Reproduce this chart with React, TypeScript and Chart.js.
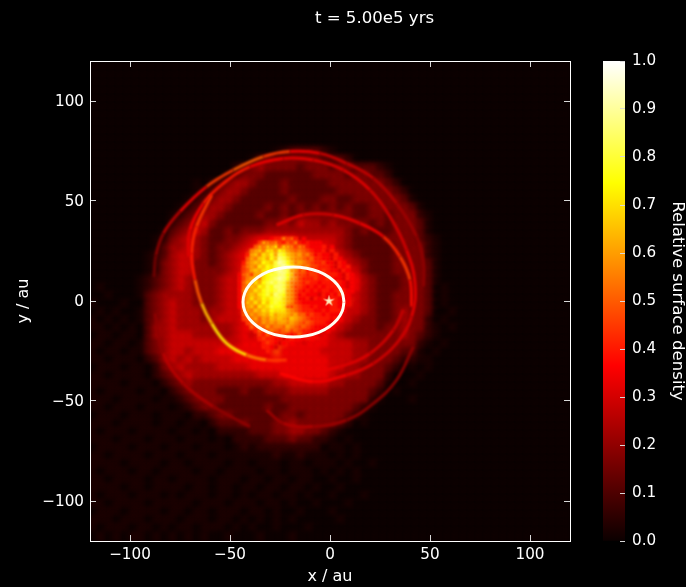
import React, { useEffect, useRef } from "react";
import { Chart, registerables } from "chart.js";

Chart.register(...registerables);

const titleText = "t = 5.00e5 yrs";
const xAxisLabel = "x / au";
const yAxisLabel = "y / au";
const colorbarLabel = "Relative surface density";
const axisTicks = [-100, -50, 0, 50, 100];
const colorbarTicks = [0, 0.1, 0.2, 0.3, 0.4, 0.5, 0.6, 0.7, 0.8, 0.9, 1];
const colorbarStops: [number, string][] = [
  [0, "#0b0000"],
  [0.365, "#ff0000"],
  [0.746, "#ffff00"],
  [1, "#ffffff"],
];

// Surface density on a 60 x 60 grid, 4 au per cell, top row first.
// Base-36 level; "z" is the faint glow just above the floor.
const densityRows = [
  "0000000000 0000000000 0000000000 0000000000 0000000000 0000000000",
  "0000000000 0000000000 0000000000 0000000000 0000000000 0000000000",
  "0000000000 0000000000 0000000000 0000000000 0000000000 0000000000",
  "0000000000 0000000000 0000000000 0000000000 0000000000 0000000000",
  "0000000000 0000000000 0000000000 0000000000 0000000000 0000000000",
  "0000000000 0000000000 0000000000 0000000000 0000000000 0000000000",
  "0000000000 0000000000 0000000000 0000000000 0000000000 0000000000",
  "0000000000 0000000000 0000000000 0000000000 0000000000 0000000000",
  "0000000000 0000000000 0000000000 0000000000 0000000000 0000000000",
  "0000000000 0000000000 0000000000 0000000000 0000000000 0000000000",
  "0000000000 0000000000 0000000000 0000000000 0000000000 0000000000",
  "0000000000 0000000000 000z122221 z000000000 0000000000 0000000000",
  "0000000000 0000000000 z233333332 2210000000 0000000000 0000000000",
  "0000000000 0000000012 3433332333 2332221z00 0000000000 0000000000",
  "0000000000 0000000123 3322222233 3323322100 0000000000 0000000000",
  "0000000000 000z012344 3222322222 3333333210 0000000000 0000000000",
  "0000000000 000z123443 2222322222 2333333321 0000000000 0000000000",
  "0000000000 00z1234432 2222232223 3223333332 z000000000 0000000000",
  "0000000000 0z12344322 2232323232 3232233333 2z00000000 0000000000",
  "0000000000 z123443222 2322323333 3332233233 31z0000000 0000000000",
  "0000000000 1234532222 2233435443 4333323233 32z0000000 0000000000",
  "000000000z 2345422323 3344444444 4432322233 32z0000000 0000000000",
  "00000000z1 3454322334 5666665555 5432222333 321z000000 0000000000",
  "00000000z2 4454323345 6777776666 5432222233 331z000000 0000000000",
  "0000000z12 4554323456 abcfgdb987 7543222233 331z000000 0000000000",
  "0000000z13 4553323456 accfhfca98 8654322233 332z000000 0000000000",
  "0000000z13 4553333457 bcdfhgb987 8765322233 332z000000 0000000000",
  "000000z123 4543334559 bcefhha876 7766432223 332z000000 0000000000",
  "0z0000z123 4543334559 bcefhf9766 6666432223 3320z00000 0000000000",
  "00z000z234 4443334559 ccegge8766 6665432233 3320z00000 0000000000",
  "z000z00234 5443334558 bcdfgc7766 6675432233 3320z00000 0000000000",
  "0z0z00z234 5444344557 abceec8876 7655432234 33200z0000 0000000000",
  "z0z0z0z234 5444345556 9abcdcb987 7654332234 3310z00000 0000000000",
  "zz0z0z0244 5444444456 789abba987 6543332334 331z0z0000 0000000000",
  "0zz0zz0244 5554444456 5789a98876 5433333334 321z000000 0000000000",
  "zz0zz0z234 5555555556 6678766666 5554433333 31z0z00000 0000000000",
  "z0zz0zz234 5545556666 6668666665 5554433332 2z0z000000 0000000000",
  "zz0zzz0124 5454555566 6667666666 5554433321 1zz0000000 0000000000",
  "0zzz0zz013 4544445555 6666666666 5544333210 z0z0000000 0000000000",
  "zz0zzzz012 3454444444 4555666666 5444333100 0z00000000 0000000000",
  "zzzz0zzz01 2343333333 3334455555 4433332z00 z000000000 0000000000",
  "z0zzzz0zz0 1233332223 2233344444 33333210z0 0000000000 0000000000",
  "zzz0zzzz0z z123333222 2222333333 333331z000 z000000000 0000000000",
  "zz0zzz0zzz 0z12332222 2232233333 33321z0000 0000000000 0000000000",
  "0zzz0zzz0z zz01123322 2222332333 3321z00000 0000000000 0000000000",
  "zzz0zzzz0z z0zz012223 2223343333 3210z00000 0000000000 0000000000",
  "z0zzz0zzzz 0zz0z01111 2223344332 1z00000000 0000000000 0000000000",
  "zzz0zzz0zz z0zzz0z011 1122232211 z0z0000000 0000000000 0000000000",
  "0zzzz0zzz0 zzz0zzz0z1 z111111110 zz0z000000 0000000000 0000000000",
  "zz0zzzz0zz z0zzz0zzzz zzz1zz1zzz 0z0z000000 0000000000 0000000000",
  "zzzz0zzzz0 zz0zzzz0zz 0zzz0zz0zz z0z00z0000 0000000000 0000000000",
  "z0zzz0zz0z zzz0zz0zzz z0zz0zzz0z 0z0z000000 0000000000 0000000000",
  "zz0zzzz0zz 0zzzz0zzz0 zz0zz0zz00 z00z000000 0000000000 0000000000",
  "zzzz0zz0zz zz0zz0zz0z z0zz0zz0z0 0z00000000 0000000000 0000000000",
  "z0zzz0zzz0 z0zzz0zz0z 0zz0zz0z00 z000z00000 0000000000 0000000000",
  "zz0zzzz0zz zzz0zzz0zz z0zz0z00z0 00z0000000 0000000000 0000000000",
  "0zzz0zzzz0 zz0zz0zzz0 zz0z00z000 z000000000 0000000000 0000000000",
  "zzz0zzz0zz z0zzz0zz0z 0z0z0z0000 0z00000000 0000000000 0000000000",
  "z0zzz0zz0z 0zz0zzz0z0 z00z000z00 0000000000 0000000000 0000000000",
  "0z0z0zz0z0 z0z0z00z00 0z000z0000 0000000000 0000000000 0000000000",
];

// Finer 2 au cells over the inner clump, x from -46 au and y from 32 au; "." leaves the coarse grid showing
const coreRows = [
  "........78 8b9a8.7... ..........",
  ".....9cbab 98a9b87877 7.........",
  "....acbdce adcb9ba877 78.7......",
  "...bcdbeec fecbaba987 7868......",
  "..8cdbedfc gfdcbcab97 87768.....",
  "..acbdecfd hgecbba9a8 877687....",
  ".8bcdcfedg ihfdbcba98 8977687...",
  ".9bcbedfeg higecbab99 88876878..",
  ".9acdcefeh ihgcb9a898 89877687..",
  "7ab9ccefgg hhfda99899 888887687.",
  "79bcdbefgh ihfcb98889 889877687.",
  "7acbecfghg hgdba98988 788898767.",
  "7abdcfegfh hgdb998787 878888767.",
  "7bccedfgfg hgcb987878 788789877.",
  "7acdcefgeh gfcb978777 68787987..",
  "7bcecdfefg gecb977868 78688777..",
  "7adcecfdfg fecb987777 77898787..",
  "7bcdbedegf fea9a98878 7778877...",
  ".acbdcedfe eecba98887 7878887...",
  ".abcbcdcec ddcbcaa898 878777....",
  ".9abcacbdc dcbdcba988 888787....",
  "..9abacbcb ccbcba9a98 88767.....",
  "...a9bacab bacba9a987 7787......",
  "....8a9aba 9ab9a98877 767.......",
  ".....98a88 99878a8787 6.........",
  ".....89887 7678777.7. ..........",
  "......8987 67.7..6... ..........",
  "......8876 .......... ..........",
  ".......8.. .......... ..........",
  ".......... .......... ..........",
];

// Filaments: x, y (au) and relative density along each arc
const arcAx = [-88, -87, -83.3, -75, -61.7, -48.3, -33.3, -20, -5, 8.3, 21.7, 33.3, 43.3, 46.7, 46.7];
const arcAy = [12, 23, 33.8, 44.7, 57.2, 65.5, 72.2, 74.7, 73.8, 68.8, 61.3, 48.8, 32.2, 18.8, 7.2];
const arcAv = [0.16, 0.2, 0.27, 0.35, 0.45, 0.5, 0.45, 0.35, 0.3, 0.28, 0.25, 0.22, 0.2, 0.2, 0.17];

const arcBx = [-70.8, -70, -63.3, -53.3, -40, -23.3, -8.3, 6.7, 20, 30, 38.3, 42.5, 40.8, 33.3, 21.7, 8.3, -8.3, -25];
const arcBy = [22.2, 35.5, 48.8, 58.8, 67.2, 71.3, 70.5, 65.5, 55.5, 42.2, 25.5, 8.8, -7.8, -21.2, -31.2, -37, -40.3, -36.2];
const arcBv = [0.32, 0.35, 0.4, 0.4, 0.35, 0.33, 0.32, 0.33, 0.3, 0.3, 0.33, 0.33, 0.3, 0.3, 0.32, 0.35, 0.37, 0.3];

const arcCx = [-59.2, -66.7, -69.2, -67.5, -64.2, -59.2, -51.7, -41.7, -31.7, -21.7];
const arcCy = [53, 37.2, 23.8, 10.5, -1.2, -11.2, -21.2, -27, -29.5, -29.5];
const arcCv = [0.45, 0.42, 0.4, 0.5, 0.65, 0.72, 0.72, 0.55, 0.45, 0.38];

const arcDx = [-26.7, -13.3, 1.7, 15, 26.7, 35, 40, 40.8];
const arcDy = [38, 43, 43, 38.8, 32.2, 22.2, 10.5, -2.8];
const arcDv = [0.32, 0.3, 0.33, 0.35, 0.42, 0.45, 0.38, 0.3];

const arcFx = [-25, -8.3, 5, 20, 31.7, 36.7];
const arcFy = [-34.5, -35.3, -32.8, -26.2, -14.5, -4.5];
const arcFv = [0.33, 0.33, 0.32, 0.3, 0.28, 0.26];

const arcGx = [-31.7, -23.3, -8.3, 8.3, 21.7, 33.3, 41.7];
const arcGy = [-54.5, -61.2, -62.8, -59.5, -51.2, -39.5, -22.8];
const arcGv = [0.22, 0.25, 0.22, 0.2, 0.2, 0.2, 0.18];

const arcHx = [-87.5, -83.3, -73.3, -58.3, -40];
const arcHy = [-6.2, -26.2, -41.2, -52.8, -62.8];
const arcHv = [0.2, 0.26, 0.24, 0.2, 0.16];

const ellipseX = [7, 6.14, 3.6, -0.4, -5.6, -11.71, -18.25, -24.79, -30.9, -36.1, -40.1, -42.64, -43.5, -42.64, -40.1, -36.1, -30.9, -24.79, -18.25, -11.71, -5.6, -0.4, 3.6, 6.14, 7];
const ellipseY = [-0.5, 4.03, 8.25, 11.87, 14.66, 16.4, 17, 16.4, 14.66, 11.87, 8.25, 4.03, -0.5, -5.03, -9.25, -12.87, -15.66, -17.4, -18, -17.4, -15.66, -12.87, -9.25, -5.03, -0.5];

const starX = [-0.5];
const starY = [0];

const arcs = [
  [arcAx, arcAy, arcAv],
  [arcBx, arcBy, arcBv],
  [arcCx, arcCy, arcCv],
  [arcDx, arcDy, arcDv],
  [arcFx, arcFy, arcFv],
  [arcGx, arcGy, arcGv],
  [arcHx, arcHy, arcHv],
];

const FONT = "'DejaVu Sans'";
const TICK_SIZE = 15.2;
const LABEL_SIZE = 16.6;

function clamp01(v: number) {
  return Math.max(0, Math.min(1, v));
}

function hot(v: number, alpha = 1) {
  const r = clamp01(0.0416 + (v / 0.365) * 0.9584);
  const g = clamp01((v - 0.365) / (0.746 - 0.365));
  const b = clamp01((v - 0.746) / (1 - 0.746));
  return `rgba(${Math.round(r * 255)},${Math.round(g * 255)},${Math.round(b * 255)},${alpha})`;
}

function minusLabel(v: number) {
  return v < 0 ? "\u2212" + Math.abs(v) : String(v);
}

function decode(rows: string[], x0: number, y0: number, step: number, unit: number) {
  const out: { x: number; y: number; v: number }[] = [];
  rows.forEach((row, j) => {
    const clean = row.replace(/ /g, "");
    for (let i = 0; i < clean.length; i++) {
      if (clean[i] === ".") continue;
      const v = clean[i] === "z" ? 0.026 : parseInt(clean[i], 36) * unit + 0.004;
      out.push({ x: x0 + step * i, y: y0 - step * j, v });
    }
  });
  return out;
}

function makeStar() {
  const c = document.createElement("canvas");
  c.width = 13;
  c.height = 13;
  const g = c.getContext("2d")!;
  g.fillStyle = "#ffeec0";
  g.beginPath();
  for (let i = 0; i < 10; i++) {
    const rad = i % 2 === 0 ? 6.2 : 2;
    const a = -Math.PI / 2 + (i * Math.PI) / 5;
    const px = 6.5 + rad * Math.cos(a);
    const py = 6.5 + rad * Math.sin(a);
    if (i === 0) g.moveTo(px, py);
    else g.lineTo(px, py);
  }
  g.closePath();
  g.fill();
  return c;
}

export default function App() {
  const mainRef = useRef<HTMLCanvasElement>(null);
  const barRef = useRef<HTMLCanvasElement>(null);

  useEffect(() => {
    const cells = decode(densityRows, -118, 118, 4, 0.057);
    const coreCells = decode(coreRows, -45, 31, 2, 0.05);

    const arcSets = arcs.map(([xs, ys, vs]) => ({
      type: "scatter" as const,
      data: xs.map((x, i) => ({ x, y: ys[i] })),
      showLine: true,
      tension: 0.4,
      pointRadius: 0,
      borderWidth: 3,
      borderColor: hot(vs[0], 0.9),
      segment: {
        borderColor: (ctx: any) => hot(vs[ctx.p0DataIndex], 0.9),
      },
      order: 5,
    }));

    const linearAxis = (position: string, labelled: boolean, title?: string) => ({
      type: "linear" as const,
      position,
      min: -120,
      max: 120,
      afterBuildTicks: (scale: any) => {
        scale.ticks = axisTicks.map((value) => ({ value }));
      },
      grid: {
        drawOnChartArea: false,
        drawTicks: true,
        tickLength: -6,
        tickColor: "#d8d8d8",
        tickWidth: 1,
        z: 1,
      },
      border: { display: true, color: "#ffffff", width: 1, z: 1 },
      ticks: {
        display: labelled,
        autoSkip: false,
        maxRotation: 0,
        minRotation: 0,
        color: "#ffffff",
        padding: position === "left" ? 12 : 11,
        labelOffset: position === "left" ? 1.5 : 0,
        font: { family: FONT, size: TICK_SIZE },
        callback: (v: any) => minusLabel(Number(v)),
      },
      title: title
        ? {
            display: true,
            text: title,
            color: "#ffffff",
            font: { family: FONT, size: 16, lineHeight: "18px" },
            padding: { top: 3, bottom: 1 },
          }
        : { display: false },
      afterFit: (scale: any) => {
        if (position === "left") scale.width = 78;
        if (position === "right") scale.width = 167;
        if (position === "bottom") scale.height = 46;
        if (position === "top") scale.height = 30;
      },
    });

    const main = new Chart(mainRef.current!, {
      type: "scatter",
      data: {
        datasets: [
          {
            data: cells,
            pointStyle: "rect",
            pointRadius: 8,
            pointHoverRadius: 8,
            pointBorderWidth: 0,
            backgroundColor: (ctx: any) => hot(ctx.raw ? ctx.raw.v : 0),
            order: 10,
          },
          {
            data: coreCells,
            pointStyle: "rect",
            pointRadius: 3.2,
            pointHoverRadius: 3.2,
            pointBorderWidth: 0,
            backgroundColor: (ctx: any) => hot(ctx.raw ? ctx.raw.v : 0),
            order: 9,
          },
          ...arcSets,
          {
            data: ellipseX.map((x, i) => ({ x, y: ellipseY[i] })),
            showLine: true,
            tension: 0.4,
            pointRadius: 0,
            borderWidth: 3,
            borderColor: "#fffff4",
            order: 2,
          },
          {
            data: starX.map((x, i) => ({ x, y: starY[i] })),
            pointStyle: makeStar(),
            pointRadius: 6,
            order: 1,
          },
        ] as any,
      },
      options: {
        responsive: false,
        animation: false,
        events: [],
        layout: { padding: { left: 12, right: -51, top: 0, bottom: 0 } },
        plugins: {
          legend: { display: false },
          tooltip: { enabled: false },
          title: {
            display: true,
            text: titleText,
            color: "#ffffff",
            font: { family: FONT, size: LABEL_SIZE, weight: "normal", lineHeight: "20px" },
            padding: { top: 9, bottom: 2 },
          },
        },
        scales: {
          x: linearAxis("bottom", true, xAxisLabel),
          y: linearAxis("left", true, yAxisLabel),
          xTop: linearAxis("top", false),
          yRight: linearAxis("right", false),
        } as any,
      },
      plugins: [
        {
          id: "softCells",
          beforeDatasetDraw(chart: any, args: any) {
            const blur = args.index === 0 ? 2.4 : args.index === 1 ? 0.8 : args.index <= 8 ? 1 : 0;
            if (blur) {
              chart.ctx.save();
              chart.ctx.filter = `blur(${blur}px)`;
            }
          },
          afterDatasetDraw(chart: any, args: any) {
            if (args.index <= 8) chart.ctx.restore();
          },
        },
      ],
    } as any);

    const bar = new Chart(barRef.current!, {
      type: "bar",
      data: {
        labels: ["density"],
        datasets: [
          {
            data: [[0, 1]],
            barPercentage: 1,
            categoryPercentage: 1,
            borderWidth: 0,
            backgroundColor: (ctx: any) => {
              const area = ctx.chart.chartArea;
              if (!area) return "#000";
              const g = ctx.chart.ctx.createLinearGradient(0, area.bottom, 0, area.top);
              colorbarStops.forEach(([p, c]) => g.addColorStop(p, c));
              return g;
            },
          },
        ],
      } as any,
      options: {
        responsive: false,
        animation: false,
        events: [],
        layout: { padding: { left: 23, right: 0, top: 61, bottom: 46 } },
        plugins: { legend: { display: false }, tooltip: { enabled: false } },
        scales: {
          x: { display: false },
          y: {
            position: "right",
            min: 0,
            max: 1,
            afterBuildTicks: (scale: any) => {
              scale.ticks = colorbarTicks.map((value) => ({ value }));
            },
            grid: {
              drawOnChartArea: false,
              drawTicks: true,
              tickLength: -5,
              tickColor: "#d8d8d8",
              z: 1,
            },
            border: { display: false },
            ticks: {
              autoSkip: false,
              color: "#ffffff",
              padding: 12,
              font: { family: FONT, size: TICK_SIZE },
              callback: (v: any) => Number(v).toFixed(1),
            },
            title: {
              display: true,
              text: colorbarLabel,
              color: "#ffffff",
              font: { family: FONT, size: LABEL_SIZE, lineHeight: "18px" },
              padding: 0,
            },
            afterFit: (scale: any) => {
              scale.width = 61;
            },
          },
        },
      },
    } as any);

    return () => {
      main.destroy();
      bar.destroy();
    };
  }, []);

  return (
    <div
      style={{
        position: "absolute",
        left: 0,
        top: 0,
        width: 686,
        height: 587,
        background: "#000",
        overflow: "hidden",
      }}
    >
      <canvas ref={mainRef} width={686} height={587} style={{ position: "absolute", left: 0, top: 0 }} />
      <canvas ref={barRef} width={106} height={587} style={{ position: "absolute", left: 580, top: 0 }} />
    </div>
  );
}
